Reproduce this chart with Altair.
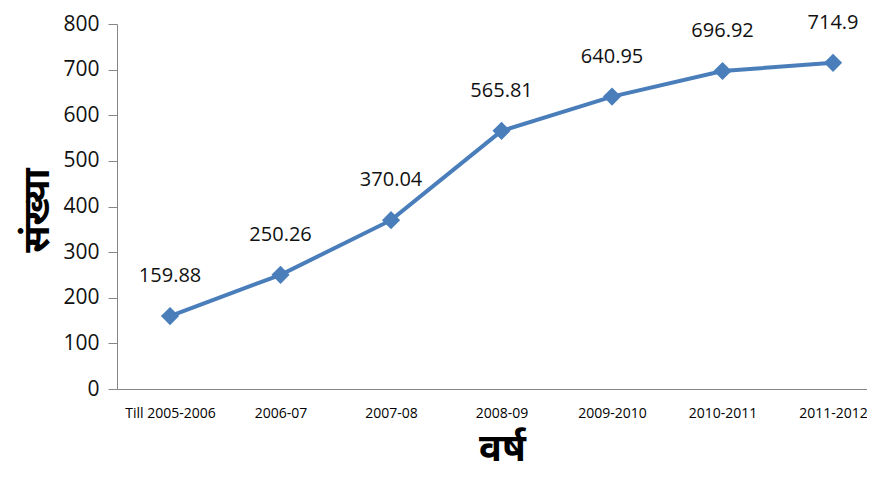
import altair as alt
import pandas as pd

years = ["Till 2005-2006", "2006-07", "2007-08", "2008-09", "2009-2010", "2010-2011", "2011-2012"]
values = [159.88, 250.26, 370.04, 565.81, 640.95, 696.92, 714.9]
labels = ["159.88", "250.26", "370.04", "565.81", "640.95", "696.92", "714.9"]

df = pd.DataFrame({"idx": list(range(len(years))), "year": years, "value": values, "label": labels})

label_expr = "[" + ",".join("'" + y + "'" for y in years) + "][datum.value]"

W = 750
x = alt.X("idx:Q", title="वर्ष",
          scale=alt.Scale(domain=[-0.48, -0.48 + W / 110.5], nice=False, zero=False),
          axis=alt.Axis(values=list(range(len(years))), labelExpr=label_expr,
                        labelAngle=0, ticks=False, grid=False, labelFont="Open Sans", labelFontSize=14,
                        labelColor="#000", labelPadding=17, domainColor="#868686",
                        titleFont="Noto Sans", titleFontSize=38, titleFontWeight="bold",
                        titleColor="#000", titlePadding=10, titleX=385, labelOverlap=False,
                        labelFlush=False))
y = alt.Y("value:Q", title="संख्या",
          scale=alt.Scale(domain=[0, 800]),
          axis=alt.Axis(values=[0, 100, 200, 300, 400, 500, 600, 700, 800], grid=False,
                        tickSize=9, tickColor="#868686", domainColor="#868686",
                        labelFont="Open Sans", labelFontSize=21, labelColor="#111",
                        labelPadding=9,
                        titleFont="Noto Sans", titleFontSize=37, titleFontWeight="bold",
                        titleColor="#000", titleX=-80, titleY=186, titleAngle=270,
                        titleAlign="center", titleBaseline="middle"))

base = alt.Chart(df).encode(x=x, y=y)

line = base.mark_line(color="#4A7EBB", strokeWidth=4)
pts = base.mark_point(shape="diamond", filled=True, size=330, color="#4A7EBB", opacity=1)
txt = base.mark_text(dy=-40, fontSize=20, font="Open Sans", color="#111").encode(text="label:N")

chart = (line + pts + txt).properties(
    width=W, height=365,
    autosize=alt.AutoSizeParams(type="none"),
    padding={"left": 109, "top": 16, "right": 0, "bottom": 88},
).configure_view(stroke=None)

chart.save("out.html", embed_options={"renderer": "svg", "actions": False})
